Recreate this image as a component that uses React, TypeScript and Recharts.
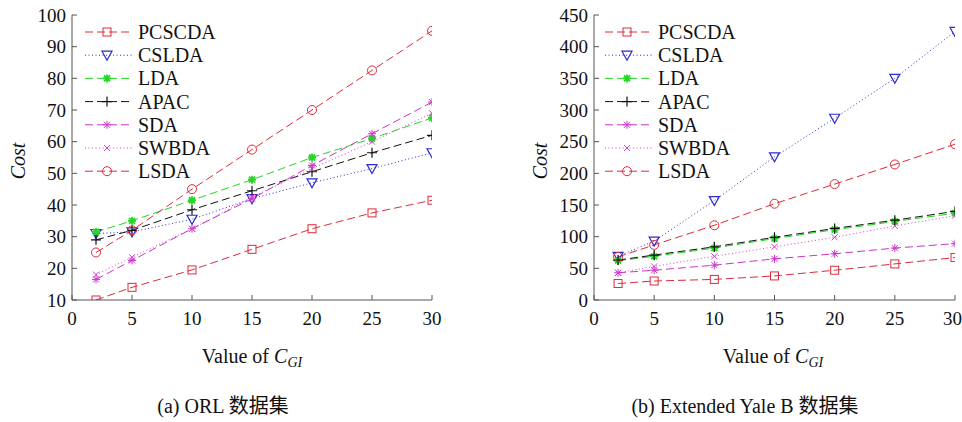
import React from "react";
import { LineChart, Line, XAxis, YAxis, Legend } from "recharts";

// x values (C_GI)
const cgi = [2, 5, 10, 15, 20, 25, 30];
const xTicks = [0, 5, 10, 15, 20, 25, 30];

// (a) ORL
const orlPCSCDA = [10, 14, 19.5, 26, 32.5, 37.5, 41.5];
const orlCSLDA = [31, 31.5, 35.5, 42, 47, 51.5, 56.5];
const orlLDA = [31.5, 35, 41.5, 48, 55, 61, 67.5];
const orlAPAC = [29, 32, 38.5, 44.5, 50.5, 56.5, 62];
const orlSDA = [16.5, 22.5, 32.5, 42, 52.5, 62.5, 72.5];
const orlSWBDA = [18, 23.5, 32.5, 42.5, 51.5, 60, 69];
const orlLSDA = [25, 32, 45, 57.5, 70, 82.5, 95];
const orlTicks = [10, 20, 30, 40, 50, 60, 70, 80, 90, 100];

// (b) Extended Yale B
const yalePCSCDA = [26, 30, 32.5, 38, 47, 57, 67];
const yaleCSLDA = [69, 93, 157, 226, 287, 350, 424];
const yaleLDA = [62, 69, 82, 97, 111, 124, 137];
const yaleAPAC = [63, 71, 84, 99, 113, 126, 140];
const yaleSDA = [43, 47, 55, 65, 73, 82, 89];
const yaleSWBDA = [43, 53, 69, 84, 99, 117, 133];
const yaleLSDA = [68, 87, 118, 152, 183, 214, 246];
const yaleTicks = [0, 50, 100, 150, 200, 250, 300, 350, 400, 450];

const FONT = "'Times New Roman', 'Liberation Serif', 'DejaVu Serif', serif, 'Noto Sans CJK SC'";
const FRAME = "#555";

type MarkerKind = "square" | "triangle" | "star" | "plus" | "asterisk" | "cross" | "circle";

const seriesStyle: { key: string; color: string; dash: string; marker: MarkerKind; width: number }[] = [
  { key: "PCSCDA", color: "#dd2a3a", dash: "8 4", marker: "square", width: 1 },
  { key: "CSLDA", color: "#2b2bd0", dash: "1 2.5", marker: "triangle", width: 1 },
  { key: "LDA", color: "#22d822", dash: "8 4", marker: "star", width: 1 },
  { key: "APAC", color: "#111111", dash: "8 4", marker: "plus", width: 1 },
  { key: "SDA", color: "#cc33cc", dash: "8 4", marker: "asterisk", width: 1 },
  { key: "SWBDA", color: "#cc44cc", dash: "1 2.5", marker: "cross", width: 1 },
  { key: "LSDA", color: "#dd2a3a", dash: "8 4", marker: "circle", width: 1 },
];

function buildRows(cols: Record<string, number[]>) {
  return cgi.map((c, i) => {
    const row: Record<string, number> = { cgi: c };
    Object.keys(cols).forEach((k) => {
      row[k] = cols[k][i];
    });
    return row;
  });
}

const orlRows = buildRows({
  PCSCDA: orlPCSCDA,
  CSLDA: orlCSLDA,
  LDA: orlLDA,
  APAC: orlAPAC,
  SDA: orlSDA,
  SWBDA: orlSWBDA,
  LSDA: orlLSDA,
});

const yaleRows = buildRows({
  PCSCDA: yalePCSCDA,
  CSLDA: yaleCSLDA,
  LDA: yaleLDA,
  APAC: yaleAPAC,
  SDA: yaleSDA,
  SWBDA: yaleSWBDA,
  LSDA: yaleLSDA,
});

function Marker({ kind, cx, cy, color }: { kind: MarkerKind; cx: number; cy: number; color: string }) {
  if (cx == null || cy == null) return <g />;
  switch (kind) {
    case "square":
      return <rect x={cx - 4} y={cy - 4} width={8} height={8} fill="none" stroke={color} strokeWidth={1} />;
    case "triangle":
      return (
        <polygon
          points={`${cx - 5},${cy - 4} ${cx + 5},${cy - 4} ${cx},${cy + 5}`}
          fill="none"
          stroke={color}
          strokeWidth={1.2}
        />
      );
    case "circle":
      return <circle cx={cx} cy={cy} r={4.5} fill="none" stroke={color} strokeWidth={1} />;
    case "plus":
      return <path d={`M${cx - 5},${cy}H${cx + 5}M${cx},${cy - 5}V${cy + 5}`} stroke={color} strokeWidth={1.2} />;
    case "cross":
      return (
        <path
          d={`M${cx - 3},${cy - 3}L${cx + 3},${cy + 3}M${cx + 3},${cy - 3}L${cx - 3},${cy + 3}`}
          stroke={color}
          strokeWidth={1}
        />
      );
    case "star":
    case "asterisk": {
      const w = kind === "star" ? 1.8 : 1;
      return (
        <path
          d={`M${cx - 4},${cy}H${cx + 4}M${cx},${cy - 4}V${cy + 4}M${cx - 3},${cy - 3}L${cx + 3},${cy + 3}M${cx + 3},${cy - 3}L${cx - 3},${cy + 3}`}
          stroke={color}
          strokeWidth={w}
        />
      );
    }
  }
  return <g />;
}

function LegendBox() {
  return (
    <svg width={160} height={170} style={{ overflow: "visible" }}>
      {seriesStyle.map((s, i) => {
        const y = 12 + i * 23.2;
        return (
          <g key={s.key}>
            <line x1={3} x2={50} y1={y} y2={y} stroke={s.color} strokeDasharray={s.dash} strokeWidth={1} />
            <Marker kind={s.marker} cx={25} cy={y} color={s.color} />
            <text x={56} y={y + 7} fontSize={20} fontFamily={FONT} fill="#111">
              {s.key}
            </text>
          </g>
        );
      })}
    </svg>
  );
}

const tickStyle = { fill: "#111", fontSize: 19, fontFamily: FONT };

function Panel({
  rows,
  yDomain,
  yTicks,
  width,
  yAxisWidth,
  rightMargin,
  legendLeft,
}: {
  rows: Record<string, number>[];
  yDomain: [number, number];
  yTicks: number[];
  width: number;
  yAxisWidth: number;
  rightMargin: number;
  legendLeft: number;
}) {
  return (
    <LineChart width={width} height={340} data={rows} margin={{ top: 15, right: rightMargin, bottom: 0, left: 0 }}>
      <XAxis
        dataKey="cgi"
        type="number"
        domain={[0, 30]}
        ticks={xTicks}
        allowDataOverflow
        height={40}
        tickSize={-5}
        tickMargin={17}
        tick={tickStyle}
        axisLine={{ stroke: FRAME }}
        tickLine={{ stroke: FRAME }}
      />
      <XAxis
        xAxisId="top"
        orientation="top"
        dataKey="cgi"
        type="number"
        domain={[0, 30]}
        ticks={xTicks}
        allowDataOverflow
        height={0}
        tickSize={-5}
        tickFormatter={() => ""}
        axisLine={{ stroke: FRAME }}
        tickLine={{ stroke: FRAME }}
      />
      <YAxis
        type="number"
        domain={yDomain}
        ticks={yTicks}
        allowDataOverflow
        width={yAxisWidth}
        tickSize={-5}
        tickMargin={11}
        tick={tickStyle}
        axisLine={{ stroke: FRAME }}
        tickLine={{ stroke: FRAME }}
      />
      <YAxis
        yAxisId="right"
        orientation="right"
        type="number"
        domain={yDomain}
        ticks={yTicks}
        allowDataOverflow
        width={0}
        tickSize={-5}
        tickFormatter={() => ""}
        axisLine={{ stroke: FRAME }}
        tickLine={{ stroke: FRAME }}
      />
      <Legend
        layout="vertical"
        align="center"
        verticalAlign="middle"
        wrapperStyle={{ left: legendLeft, top: 20, width: 160, height: 170 }}
        content={() => <LegendBox />}
      />
      {seriesStyle.map((s) => (
        <Line
          key={s.key}
          dataKey={s.key}
          type="linear"
          stroke={s.color}
          strokeWidth={s.width}
          strokeDasharray={s.dash}
          isAnimationActive={false}
          dot={(p: any) => (
            <Marker key={`${s.key}-${p.index}`} kind={s.marker} cx={p.cx} cy={p.cy} color={s.color} />
          )}
          activeDot={false}
        />
      ))}
    </LineChart>
  );
}

const textBase: React.CSSProperties = {
  position: "absolute",
  fontFamily: FONT,
  fontSize: 20,
  lineHeight: "20px",
  color: "#111",
  whiteSpace: "nowrap",
};

function XTitle({ center }: { center: number }) {
  return (
    <div style={{ ...textBase, left: center, top: 346, transform: "translateX(-50%)" }}>
      Value of <i>C</i>
      <i style={{ fontSize: 14, position: "relative", top: 4 }}>GI</i>
    </div>
  );
}

function YTitle({ cx }: { cx: number }) {
  return (
    <div
      style={{
        ...textBase,
        left: cx,
        top: 161,
        fontStyle: "italic",
        transform: "translate(-50%, -50%) rotate(-90deg)",
      }}
    >
      Cost
    </div>
  );
}

export default function App() {
  return (
    <div style={{ position: "absolute", left: 0, top: 0, width: 962, height: 422, background: "#fff" }}>
      <div style={{ position: "absolute", left: 0, top: 0 }}>
        <Panel
          rows={orlRows}
          yDomain={[10, 100]}
          yTicks={orlTicks}
          width={480}
          yAxisWidth={72}
          rightMargin={48}
          legendLeft={82}
        />
      </div>
      <div style={{ position: "absolute", left: 480, top: 0 }}>
        <Panel
          rows={yaleRows}
          yDomain={[0, 450]}
          yTicks={yaleTicks}
          width={482}
          yAxisWidth={114}
          rightMargin={7}
          legendLeft={122}
        />
      </div>
      <YTitle cx={18} />
      <YTitle cx={540} />
      <XTitle center={252} />
      <XTitle center={773} />
      <div style={{ ...textBase, left: 223, top: 396, transform: "translateX(-50%)" }}>(a) ORL 数据集</div>
      <div style={{ ...textBase, left: 745, top: 396, transform: "translateX(-50%)" }}>(b) Extended Yale B 数据集</div>
    </div>
  );
}
